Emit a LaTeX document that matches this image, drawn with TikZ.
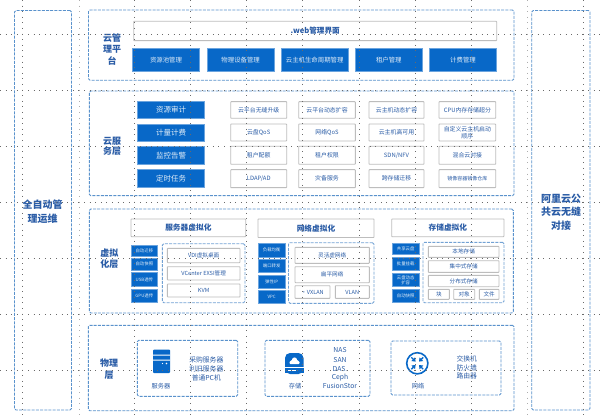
\documentclass[tikz,border=0pt]{standalone}
\usepackage{fontspec}
\usetikzlibrary{arrows.meta}
\setmainfont{Noto Sans CJK SC}
\definecolor{bluefill}{HTML}{0868C8}
\definecolor{dashblue}{HTML}{5A92CC}
\definecolor{txtblue}{HTML}{2A5CA6}
\definecolor{boxgray}{HTML}{BDBDBD}
\definecolor{griddot}{HTML}{6A6A6A}
\newcommand{\fs}[1]{\fontsize{#1}{#1}\selectfont}
\newcommand{\bx}[7]{%
  \pgfmathsetmacro\bxw{#5-#3}\pgfmathsetmacro\bxh{#6-#4}%
  \node[#2,minimum width=\bxw pt,minimum height=\bxh pt] (#1) at ({(#3+#5)/2},{(#4+#6)/2}) {#7};}
\tikzset{
  base/.style={inner sep=0pt,outer sep=0pt,align=center,text=txtblue},
  panel/.style={base,draw=dashblue,line width=0.9pt,dash pattern=on 3pt off 1.2pt,rounded corners=1.5pt},
  bluebox/.style={base,fill=bluefill,draw=bluefill!60,line width=0.5pt,text=white!88!bluefill},
  whitebox/.style={base,fill=white,draw=boxgray,line width=0.9pt,rounded corners=0.6pt},
  title/.style={base,font=\bfseries\fs{9},text=txtblue,inner sep=0pt},
  label/.style={base,inner sep=0pt},
  gridline/.style={griddot,line width=0.6pt,dash pattern=on 0.6pt off 5pt},
  softgrid/.style={griddot!55,line width=0.6pt,dash pattern=on 0.6pt off 5pt}
}
\begin{document}
\begin{tikzpicture}[x=1pt,y=-1pt]
\useasboundingbox (0,0) rectangle (600,417);
\fill[white] (0,0) rectangle (600,417);
% outer panels
\bx{autoops}{panel}{14.5}{10.5}{71.5}{410}{}
\bx{aliyun}{panel}{531.7}{10.5}{590}{410}{}
\node[title,font=\bfseries\fs{10}] (autotxt) at (42.7,211.5) {全自动管\\[3.5pt]理运维};
\node[title,font=\bfseries\fs{10}] (alitxt) at (561,212) {阿里云公\\[3.5pt]共云无缝\\[3.5pt]对接};
% cloud management layer
\bx{cmp}{panel}{88.5}{10}{514}{80.3}{}
\node[title] (cmpt) at (112,49.5) {云管\\[2.3pt]理平\\[2.3pt]台};
\bx{web}{whitebox,font=\bfseries\fs{7.6}}{133.7}{21.3}{496.7}{40.7}{.web管理界面}
\bx{c1}{bluebox,font=\fs{6.4}}{132.3}{48.3}{199.7}{71}{资源池管理}
\bx{c2}{bluebox,font=\fs{6.4}}{207}{48.3}{274.3}{71}{物理设备管理}
\bx{c3}{bluebox,font=\fs{6.4}}{281}{48.3}{348.3}{71}{云主机生命周期管理}
\bx{c4}{bluebox,font=\fs{6.4}}{355.3}{48.3}{422.3}{71}{租户管理}
\bx{c5}{bluebox,font=\fs{6.4}}{429.3}{48.3}{496.7}{71}{计费管理}
% cloud service layer
\bx{svc}{panel}{89.3}{91}{514}{195.7}{}
\node[title] (svct) at (112,146.5) {云服\\[1.5pt]务层};
\bx{s1}{bluebox,font=\fs{7.5}}{137.3}{101}{204.7}{118.7}{资源审计}
\bx{s2}{bluebox,font=\fs{7.5}}{137.3}{124.3}{204.7}{141}{计量计费}
\bx{s3}{bluebox,font=\fs{7.5}}{137.3}{146.3}{204.7}{164.7}{监控告警}
\bx{s4}{bluebox,font=\fs{7.5}}{137.3}{169.7}{204.7}{187.3}{定时任务}
\tikzset{sv/.style={whitebox,font=\fs{5.9}}}
\bx{a1}{sv}{230.7}{101.7}{286.7}{118.3}{云平台无缝升级}
\bx{a2}{sv}{298.7}{101.7}{355.3}{118.3}{云平台动态扩容}
\bx{a3}{sv}{369}{101.7}{424}{118.3}{云主机动态扩容}
\bx{a4}{sv}{439}{101.7}{495.7}{118.3}{CPU内存存储超分}
\bx{b1}{sv}{230.7}{124}{286.7}{141}{云盘QoS}
\bx{b2}{sv}{298.7}{124}{355.3}{141}{网络QoS}
\bx{b3}{sv}{369}{124}{424}{141}{云主机高可用}
\bx{b4}{sv}{439}{124}{495.7}{141}{自定义云主机启动\\[1pt]顺序}
\bx{d1}{sv}{230.7}{146.3}{286.7}{164.3}{租户配额}
\bx{d2}{sv}{298.7}{146.3}{355.3}{164.3}{租户权限}
\bx{d3}{sv}{369}{146.3}{424}{164.3}{SDN/NFV}
\bx{d4}{sv}{439}{146.3}{495.7}{164.3}{混合云对接}
\bx{e1}{sv}{230.7}{169.7}{286.7}{187.7}{LDAP/AD}
\bx{e2}{sv}{298.7}{169.7}{355.3}{187.7}{灾备服务}
\bx{e3}{sv}{369}{169.7}{424}{187.7}{跨存储迁移}
\bx{e4}{whitebox,font=\fs{5}}{439}{169.7}{495.7}{187.7}{镜像容器镜像仓库}
% virtualization layer
\bx{virt}{panel}{89.3}{209}{513.3}{313}{}
\node[title] (virtt) at (109.3,258.5) {虚拟\\[1.5pt]化层};
\tikzset{hd/.style={whitebox,font=\bfseries\fs{7.7}},sb/.style={bluebox,font=\fs{4.4}},
 wb/.style={whitebox,font=\fs{5.6}},
 inner/.style={panel,draw=dashblue!85,line width=0.9pt}}
\bx{h1}{hd}{131}{219}{245.7}{236.7}{服务器虚拟化}
\bx{h2}{hd}{258}{219}{374}{237.5}{网络虚拟化}
\bx{h3}{hd}{391.7}{219}{504}{236.7}{存储虚拟化}
\bx{t1}{sb}{131}{245}{157.7}{256}{自动迁移}
\bx{t2}{sb}{131}{258.3}{157.7}{270.3}{自动快照}
\bx{t3}{sb}{131}{272.7}{157.7}{286}{USB透传}
\bx{t4}{sb}{131}{289}{157.7}{302}{GPU透传}
\bx{i1}{inner}{162.3}{243.7}{245}{302.7}{}
\bx{w1}{wb}{167.3}{248.3}{240}{262.7}{VDI虚拟桌面}
\bx{w2}{wb}{167.3}{266.7}{240}{280}{VCenter EXSI管理}
\bx{w3}{wb}{167.3}{284}{240}{297}{KVM}
\bx{u1}{sb}{258.3}{243.3}{285}{257.3}{负载均衡}
\bx{u2}{sb}{258.3}{259.3}{285}{272.7}{端口转发}
\bx{u3}{sb}{258.3}{275}{285}{288.3}{弹性IP}
\bx{u4}{sb}{258.3}{290.7}{285}{303}{VPC}
\bx{i2}{inner}{288.5}{242.7}{374}{303.3}{}
\bx{n1}{wb}{295}{247.3}{369.3}{263.3}{灵活虚网络}
\bx{n2}{wb}{295}{266.7}{369.3}{282.7}{扁平网络}
\bx{n3}{wb}{295}{285.7}{330}{298.3}{·VXLAN}
\bx{n4}{wb}{335.3}{285.7}{369.3}{298.3}{VLAN}
\bx{v1}{sb}{392.3}{243.3}{419}{254.3}{共享云盘}
\bx{v2}{sb}{392.3}{257.7}{419}{270}{批量挂载}
\bx{v3}{sb}{392.3}{273.7}{419}{286.7}{云盘动态\\扩容}
\bx{v4}{sb}{392.3}{289.7}{419}{302.7}{自动快照}
\bx{i3}{inner}{423}{242.3}{504}{302.7}{}
\bx{r1}{wb}{428.3}{246.3}{499}{257.3}{本地存储}
\bx{r2}{wb}{428.3}{260.7}{499}{272.3}{集中式存储}
\bx{r3}{wb}{428.3}{275.3}{499}{286.7}{分布式存储}
\bx{r4}{wb}{428.3}{289.3}{449.3}{299.3}{块}
\bx{r5}{wb}{453.7}{289.3}{474.7}{299.3}{对象}
\bx{r6}{wb}{479.3}{289.3}{499}{299.3}{文件}
% physical layer
\bx{phy}{panel}{88.3}{325.3}{514}{410.7}{}
\node[title] (phyt) at (109,369) {物理\\[2.5pt]层};
\bx{p1}{panel}{137.3}{340.3}{237.7}{396.3}{}
\bx{p2}{panel}{265}{340.3}{370}{396.3}{}
\bx{p3}{panel}{391}{341}{501}{395}{}
% server icon
\fill[bluefill,rounded corners=0.8pt] (153,349.7) rectangle (170,373);
\fill[white] (153,354.5) rectangle (170,355.5) (153,359.5) rectangle (170,360.5);
\fill[white] (166.5,363.5) circle (0.9) (162.5,363.5) circle (0.6);
% storage icon
\fill[bluefill,rounded corners=5pt] (285,374) -- (285,353) -- (303.5,353) -- (303.5,374) -- cycle;
\fill[bluefill] (285,368) rectangle (303.5,372.5);
\fill[white,rounded corners=0.8pt] (289.5,364) rectangle (299.5,361.5);
\fill[white] (294.5,360) circle (2.6);
\fill[white] (291.5,362) circle (1.8) (297.5,362) circle (1.8);
\fill[white] (285,366.6) rectangle (303.5,367.5);
\fill[white] (287.5,370) rectangle (296,371);
% network icon
\draw[bluefill,line width=1.6pt] (417.3,363.3) circle (10.6);
\foreach \a in {45,135,225,315}{
  \draw[bluefill,line width=1.4pt,-{Triangle[length=3.4pt,width=5pt]}] ({417.3+8.4*cos(\a)},{363.3+8.4*sin(\a)}) -- ({417.3+2.4*cos(\a)},{363.3+2.4*sin(\a)});
}
% physical labels
\tikzset{pl/.style={label,font=\fs{6.8}},pc/.style={label,font=\fs{6.2}}}
\node[pc] (l1) at (161,386.3) {服务器};
\node[pc] (l2) at (295,386.3) {存储};
\node[pc] (l3) at (418,386.3) {网络};
\node[pl] (m1) at (206.3,359.7) {采购服务器};
\node[pl] (m2) at (206.3,368.7) {利旧服务器};
\node[pl] (m3) at (206.3,378) {普通PC机};
\node[pl] (q1) at (340,350.3) {NAS};
\node[pl] (q2) at (340,359.7) {SAN};
\node[pl] (q3) at (340,368.7) {DAS.};
\node[pl] (q4) at (340,378) {Ceph};
\node[pl] (q5) at (340,386.3) {FusionStor};
\node[pl] (o1) at (466.7,358.7) {交换机};
\node[pl] (o2) at (466.7,367.7) {防火墙};
\node[pl] (o3) at (466.7,376.3) {路由器};
% dotted grid on top
\foreach \x in {22.5,134.5,190.7,246.7,302.7,359,415,471,583}{\draw[gridline] (\x,0) -- (\x,417);}
\foreach \x in {79,527}{\draw[softgrid] (\x,0) -- (\x,417);}
\foreach \y in {34,90,146,202,258,314,370}{\draw[gridline] (0,\y) -- (600,\y);}
\end{tikzpicture}
\end{document}
